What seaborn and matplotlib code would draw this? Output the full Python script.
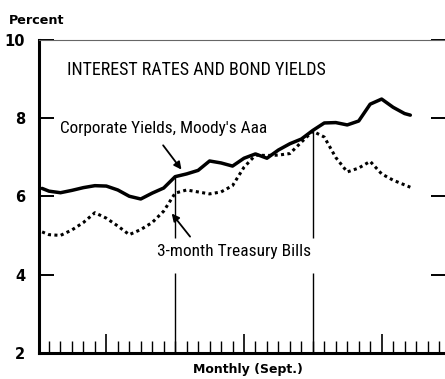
import numpy as np
import pandas as pd
import matplotlib
matplotlib.use("Agg")
import matplotlib.pyplot as plt
import seaborn as sns

# Month index (tick marks fall on whole months; series begin just before the first tick)
months = [-0.6] + list(range(32)) + [31.5]

corporate_aaa = [6.20, 6.13, 6.09, 6.15, 6.22, 6.27, 6.26, 6.16, 6.00, 5.93,
                 6.08, 6.21, 6.50, 6.57, 6.66, 6.90, 6.85, 6.77, 6.97, 7.08,
                 6.97, 7.18, 7.34, 7.46, 7.68, 7.87, 7.88, 7.82, 7.92, 8.35,
                 8.48, 8.27, 8.11, 8.07]

treasury_3m = [5.09, 5.02, 5.00, 5.14, 5.33, 5.58, 5.44, 5.24, 5.02, 5.15,
               5.33, 5.62, 6.08, 6.16, 6.11, 6.06, 6.11, 6.27, 6.74, 7.05,
               7.04, 7.05, 7.09, 7.38, 7.66, 7.51, 6.99, 6.62, 6.72, 6.89,
               6.57, 6.41, 6.29, 6.23]

y_ticks = [2, 4, 6, 8, 10]
y_tick_labels = ["2", "4", "6", "8", "10"]
month_ticks = list(range(35))
half_year_ticks = [5, 17, 29]
marker_months = [11, 23]

df = pd.DataFrame({
    "month": months * 2,
    "rate": corporate_aaa + treasury_3m,
    "series": ["Corporate"] * len(months) + ["Treasury"] * len(months),
})

sns.set_style("ticks")
plt.rcParams["font.family"] = ["DejaVu Sans"]
plt.rcParams["text.color"] = "black"
plt.rcParams["xtick.color"] = "black"
plt.rcParams["ytick.color"] = "black"

W, H = 445, 379
fig = plt.figure(figsize=(W / 100, H / 100), dpi=100)
ax = fig.add_axes([39 / W, (H - 353) / H, (446 - 39) / W, (353 - 39.5) / H])

sns.lineplot(data=df[df.series == "Corporate"], x="month", y="rate", ax=ax,
             color="black", lw=2.5, legend=False, solid_joinstyle="round",
             solid_capstyle="round")
sns.lineplot(data=df[df.series == "Treasury"], x="month", y="rate", ax=ax,
             color="black", lw=2.2, legend=False)
ax.lines[-1].set_linestyle((0, (1.0, 1.1)))

ax.set_xlim(-0.87, 34.61)
ax.set_ylim(2, 10)

# vertical reference lines rising to the corporate curve, broken around the label
for m in marker_months:
    top = corporate_aaa[months.index(m)]
    ax.vlines(m, 2, 4.05, color="black", lw=1.0)
    ax.vlines(m, 4.93, top, color="black", lw=1.0)

# spines
for side in ["left", "bottom"]:
    ax.spines[side].set_linewidth(2.2)
    ax.spines[side].set_color("black")
ax.spines["top"].set_linewidth(0.8)
ax.spines["top"].set_color("#666666")
ax.spines["right"].set_visible(False)

# y ticks (inward on both sides)
ax.set_yticks(y_ticks)
ax.set_yticklabels(y_tick_labels, fontsize=10.5, fontweight="bold")
ax.tick_params(axis="y", direction="in", length=11, width=1.4, left=True,
               right=True, pad=10, colors="black")

# x ticks: short monthly marks, taller at half-year points
ax.set_xticks(half_year_ticks)
ax.set_xticklabels([])
ax.set_xticks(month_ticks, minor=True)
ax.tick_params(axis="x", which="major", direction="in", length=14, width=1.2)
ax.tick_params(axis="x", which="minor", direction="in", length=9, width=1.0)

ax.set_xlabel("")
ax.set_ylabel("")

cond = dict(family=["Roboto Condensed", "DejaVu Sans"], stretch="condensed")
ax.text(1.57, 9.22, "INTEREST RATES AND BOND YIELDS", fontsize=13,
        ha="left", va="center", **cond)
ax.text(1.0, 7.74, "Corporate Yields, Moody's Aaa", fontsize=12.4,
        ha="left", va="center", **cond)
ax.text(9.4, 4.58, "3-month Treasury Bills", fontsize=12.5,
        ha="left", va="center", **cond)

ax.annotate("", xy=(11.55, 6.68), xytext=(9.95, 7.3),
            arrowprops=dict(arrowstyle="-|>", color="black", lw=1.3,
                            mutation_scale=11, shrinkA=0, shrinkB=0))
ax.annotate("", xy=(10.7, 5.56), xytext=(12.3, 4.97),
            arrowprops=dict(arrowstyle="-|>", color="black", lw=1.3,
                            mutation_scale=11, shrinkA=0, shrinkB=0))

fig.text(9 / W, 1 - 20 / H, "Percent", fontsize=9.2, fontweight="bold",
         ha="left", va="center")
fig.text((193 + 303) / 2 / W, 1 - 370 / H, "Monthly (Sept.)", fontsize=9,
         fontweight="bold", ha="center", va="center")

fig.savefig("out.png", dpi=100)
